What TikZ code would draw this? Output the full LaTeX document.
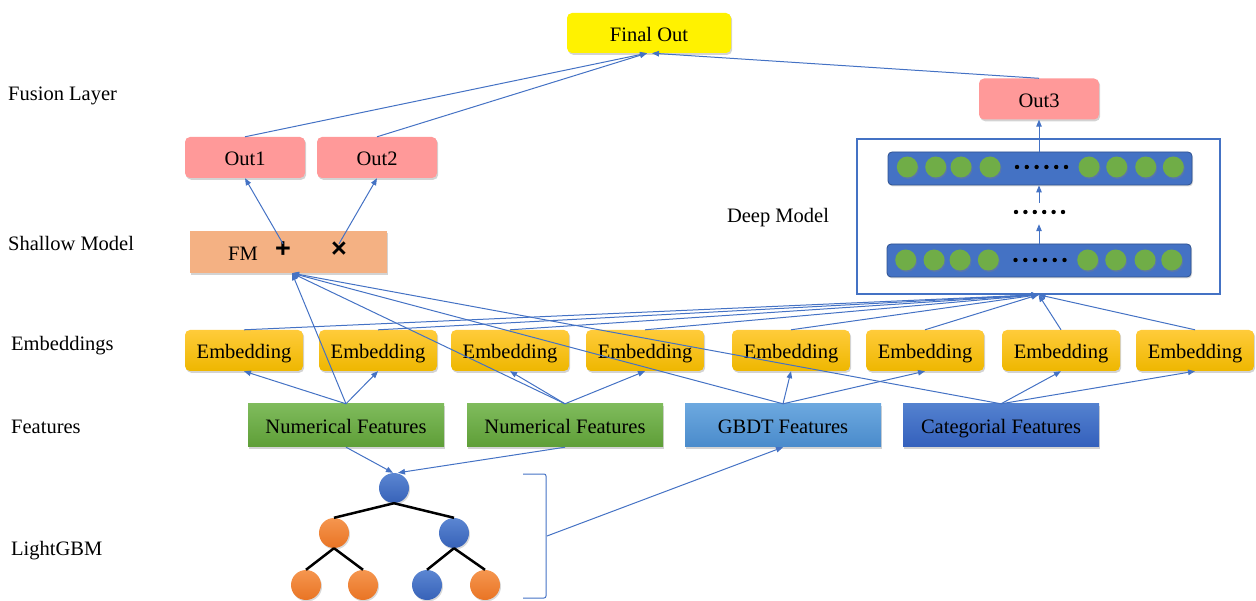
\documentclass[tikz,border=0pt]{standalone}
\usepackage{fontspec}
\setmainfont{Liberation Serif}
\setsansfont{Liberation Sans}
\usetikzlibrary{arrows.meta,shadows}
\definecolor{conncol}{HTML}{4472C4}
\definecolor{outpink}{HTML}{FF9999}
\definecolor{fmcol}{HTML}{F4B183}
\definecolor{embtop}{HTML}{FFCB3A}
\definecolor{embbot}{HTML}{EEB700}
\definecolor{numtop}{HTML}{7FBB5C}
\definecolor{numbot}{HTML}{5E9E37}
\definecolor{gbtop}{HTML}{6CA8DF}
\definecolor{gbbot}{HTML}{4A8BCB}
\definecolor{cattop}{HTML}{5381CF}
\definecolor{catbot}{HTML}{3460BC}
\definecolor{barcol}{HTML}{4472C4}
\definecolor{barline}{HTML}{2F528F}
\definecolor{neur}{HTML}{70AD47}
\definecolor{blutop}{HTML}{5B86D2}
\definecolor{blubot}{HTML}{3762B8}
\definecolor{orgtop}{HTML}{F5964F}
\definecolor{orgbot}{HTML}{E97424}
\begin{document}
\begin{tikzpicture}[x=1pt,y=-1pt,
  every node/.style={inner sep=0pt, text height=17pt, text depth=0.5pt},
  font=\fontsize{20.5}{24}\selectfont,
  shad/.style={drop shadow={shadow xshift=1.2pt,shadow yshift=-1.8pt,opacity=0.35}},
  rbox/.style={shad, rounded corners=5pt},
  emb/.style={rbox, minimum width=118pt, minimum height=41pt, top color=embtop, bottom color=embbot},
  feat/.style={shad, minimum width=196pt, minimum height=43pt},
  outbox/.style={rbox, fill=outpink, minimum width=120pt, minimum height=41pt},
  conn/.style={draw=conncol, line width=1pt, -{Triangle[length=7pt,width=5.5pt]}},
  plainline/.style={draw=conncol, line width=1pt},
  lbl/.style={anchor=west},
  bar/.style={rounded corners=4pt, fill=barcol, draw=barline, line width=0.8pt, minimum width=304pt, minimum height=33pt, drop shadow={shadow xshift=1pt,shadow yshift=-1.5pt,opacity=0.3}},
  neuron/.style={circle, fill=neur, minimum size=21pt, drop shadow={shadow xshift=1pt,shadow yshift=-1.5pt,opacity=0.35}},
  bluenode/.style={circle, minimum size=30pt, top color=blutop, bottom color=blubot, drop shadow={shadow xshift=1pt,shadow yshift=-1.5pt,opacity=0.3}},
  orgnode/.style={circle, minimum size=30pt, top color=orgtop, bottom color=orgbot, drop shadow={shadow xshift=1pt,shadow yshift=-1.5pt,opacity=0.3}},
  treeedge/.style={draw=black, line width=2.5pt},
  opsym/.style={font=\fontsize{27}{30}\sffamily\bfseries, text height=14pt, text depth=0pt}
]
\useasboundingbox (0,0) rectangle (1256,601);

% left labels
\node[lbl] (lfus) at (8,92) {Fusion Layer};
\node[lbl] (lsha) at (8,242) {Shallow Model};
\node[lbl] (lemb) at (11,342) {Embeddings};
\node[lbl] (lfea) at (11,425) {Features};
\node[lbl] (llgb) at (11,547) {LightGBM};

% top
\node[rbox, fill=yellow, minimum width=164pt, minimum height=40pt] (final) at (649,33) {Final Out};
\node[outbox] (out1) at (245,157.5) {Out1};
\node[outbox] (out2) at (377,157.5) {Out2};
\node[outbox] (out3) at (1039,99) {Out3};

% FM
\node[shad, fill=fmcol, minimum width=197pt, minimum height=42pt] (fm) at (288.5,252) {};
\node (fmtxt) at (243,252) {FM};
\node[opsym] (plus) at (283,251) {+};
\node[opsym] (times) at (339,251) {×};
\coordinate (fmin) at ([xshift=3.5pt]fm.south);

% deep model
\node[draw=conncol, line width=1.5pt, minimum width=363pt, minimum height=155pt] (deep) at (1038.5,216.5) {};
\node (deeplbl) at (778,214) {Deep Model};
\node[bar] (layer1) at (1040,168.5) {};
\node[bar] (layer2) at (1039,260.5) {};
\foreach \x [count=\i] in {907.3,935.7,961,990,1089,1116.7,1145.7,1173.3}
  \node[neuron] (na\i) at (\x,167) {};
\foreach \x [count=\i] in {905.7,934,960,988.3,1087.7,1115.7,1145,1171.7}
  \node[neuron] (nb\i) at (\x,260) {};
\foreach \i in {0,...,5} {
  \fill (1017+\i*9.8,167) circle (2.2);
  \fill (1015.5+\i*9.8,260) circle (2.2);
  \fill (1016+\i*9.4,212) circle (2.2);
}
\node[minimum width=50pt, minimum height=21pt, text height=0pt, text depth=0pt] (middots) at (1039,213.5) {};

% embeddings
\foreach \x [count=\i] in {244,378,510,645,791,925,1061,1195}
  \node[emb] (emb\i) at (\x,350.5) {Embedding};

% features
\node[feat, top color=numtop, bottom color=numbot] (num1) at (346,425.5) {Numerical Features};
\node[feat, top color=numtop, bottom color=numbot] (num2) at (565,425.5) {Numerical Features};
\node[feat, top color=gbtop, bottom color=gbbot] (gbdt) at (783,425.5) {GBDT Features};
\node[feat, top color=cattop, bottom color=catbot] (cat) at (1001,425.5) {Categorial Features};

% tree
\node[bluenode] (root) at (394,488) {};
\node[orgnode] (t1) at (334,533) {};
\node[bluenode] (t2) at (454,533) {};
\node[orgnode] (t11) at (306,585) {};
\node[orgnode] (t12) at (363,585) {};
\node[bluenode] (t21) at (427,585) {};
\node[orgnode] (t22) at (485,585) {};
\draw[treeedge] (root.south) -- (t1.north);
\draw[treeedge] (root.south) -- (t2.north);
\draw[treeedge] (t1.south) -- (t11.north);
\draw[treeedge] (t1.south) -- (t12.north);
\draw[treeedge] (t2.south) -- (t21.north);
\draw[treeedge] (t2.south) -- (t22.north);

% bracket
\draw[plainline, rounded corners=2pt] (523,474) -- (546,474) -- (546,598) -- (523,598);
\coordinate (brk) at (547,536);

% connectors
\draw[conn] (brk) -- (gbdt.south);
\draw[conn] (num1.south) -- ([xshift=-1pt]root.north);
\draw[conn] (num2.south) -- ([xshift=4pt]root.north);

\draw[conn] (num1.north) -- (emb1.south);
\draw[conn] (num1.north) -- (emb2.south);
\draw[conn] (num2.north) -- (emb3.south);
\draw[conn] (num2.north) -- (emb4.south);
\draw[conn] (gbdt.north) -- (emb5.south);
\draw[conn] (gbdt.north) -- (emb6.south);
\draw[conn] (cat.north) -- (emb7.south);
\draw[conn] (cat.north) -- (emb8.south);

\draw[conn] (num1.north) -- (fmin);
\draw[conn] (num2.north) -- (fmin);
\draw[conn] (gbdt.north) -- (fmin);
\draw[conn] (cat.north) -- (fmin);

\foreach \i in {1,...,8}
  \draw[conn] (emb\i.north) -- (deep.south);

\draw[conn] (plus.north) -- (out1.south);
\draw[conn] (times.north) -- (out2.south);

\draw[conn] (layer2.north -| middots) -- (middots.south);
\draw[conn] (middots.north) -- (layer1.south -| middots);
\draw[conn] (layer1.north -| out3) -- (out3.south);

\draw[conn] (out1.north) -- ([xshift=-2pt]final.south);
\draw[conn] (out2.north) -- ([xshift=-2pt]final.south);
\draw[conn] (out3.north) -- ([xshift=3pt]final.south);
\end{tikzpicture}
\end{document}
